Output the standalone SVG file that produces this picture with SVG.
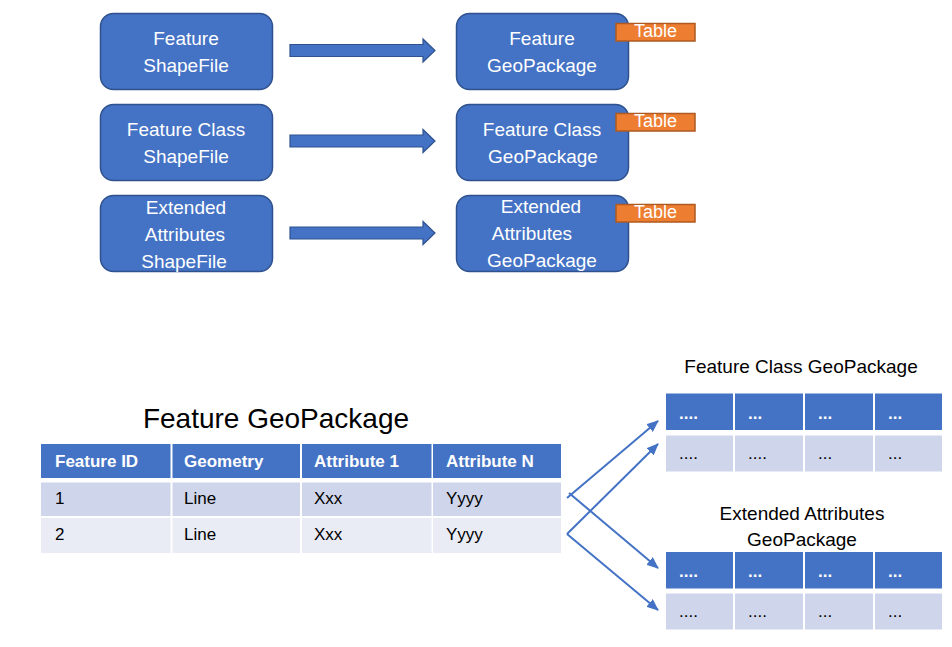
<svg xmlns="http://www.w3.org/2000/svg" width="952" height="647" viewBox="0 0 952 647">
<style>
text{font-family:"Liberation Sans",Arial,sans-serif}
.box{fill:#4472C4;stroke:#2F528F;stroke-width:1.5}
.bt{fill:#FFFFFF;font-size:19px;text-anchor:middle}
.tag{fill:#ED7D31;stroke:#AE5A21;stroke-width:1.5}
.tt{fill:#FFFFFF;font-size:18px;text-anchor:middle}
.barrow{fill:#4472C4;stroke:#2F528F;stroke-width:1.2}
.hd{fill:#4472C4}
.r1{fill:#CFD5EA}
.r2{fill:#E9EBF5}
.ht{fill:#FFFFFF;font-size:17px;font-weight:bold}
.ct{fill:#000000;font-size:17px}
.ttl{fill:#000000;text-anchor:middle}
.conn{stroke:#4472C4;stroke-width:2;fill:none;marker-end:url(#ah)}
</style>
<defs>
<marker id="ah" markerWidth="12" markerHeight="10" refX="11" refY="5" orient="auto" markerUnits="userSpaceOnUse">
<path d="M0,0 L12,5 L0,10 Z" fill="#4472C4"/>
</marker>
</defs>

<g id="shp-feature">
<rect class="box" x="100.5" y="13.5" width="172" height="76" rx="13"/>
<text class="bt" x="186" y="45">Feature</text>
<text class="bt" x="186" y="72">ShapeFile</text>
</g>
<g id="shp-featureclass">
<rect class="box" x="100.5" y="104.5" width="172" height="76" rx="13"/>
<text class="bt" x="186" y="136">Feature Class</text>
<text class="bt" x="186" y="163">ShapeFile</text>
</g>
<g id="shp-extended">
<rect class="box" x="100.5" y="195.5" width="172" height="76" rx="13"/>
<text class="bt" x="186" y="214">Extended</text>
<text class="bt" x="185" y="241">Attributes</text>
<text class="bt" x="184" y="268">ShapeFile</text>
</g>

<g id="gpkg-feature">
<rect class="box" x="456.5" y="13.5" width="172" height="76" rx="13"/>
<text class="bt" x="542" y="45">Feature</text>
<text class="bt" x="542" y="72">GeoPackage</text>
<rect class="tag" x="616" y="23.5" width="79" height="17.5"/>
<text class="tt" x="655.5" y="37">Table</text>
</g>
<g id="gpkg-featureclass">
<rect class="box" x="456.5" y="104.5" width="172" height="76" rx="13"/>
<text class="bt" x="542" y="136">Feature Class</text>
<text class="bt" x="543" y="163">GeoPackage</text>
<rect class="tag" x="616" y="113.5" width="79" height="17.5"/>
<text class="tt" x="655.5" y="127">Table</text>
</g>
<g id="gpkg-extended">
<rect class="box" x="456.5" y="195.5" width="172" height="76" rx="13"/>
<text class="bt" x="541" y="213">Extended</text>
<text class="bt" x="532" y="240">Attributes</text>
<text class="bt" x="542" y="267">GeoPackage</text>
<rect class="tag" x="616" y="204.5" width="79" height="17.5"/>
<text class="tt" x="655.5" y="218">Table</text>
</g>

<g id="connectors">
<path class="barrow" d="M290,44.5 H423 V39 L435,50.5 L423,62 V56.5 H290 Z"/>
<path class="barrow" d="M290,135 H423 V129.5 L435,141 L423,152.5 V147 H290 Z"/>
<path class="barrow" d="M290,227 H423 V221.5 L435,233 L423,244.5 V239 H290 Z"/>
<line class="conn" x1="567" y1="498" x2="658" y2="421"/>
<polyline class="conn" points="567,534 567,534 658,444"/>
<line class="conn" x1="569" y1="493" x2="658" y2="568"/>
<polyline class="conn" points="567,534 567,534 658,610"/>
</g>

<g id="feature-gpkg-table">
<text class="ttl" x="276" y="428" font-size="28">Feature GeoPackage</text>
<rect class="hd" x="41" y="444" width="129.5" height="34"/>
<rect class="hd" x="172.5" y="444" width="127.5" height="34"/>
<rect class="hd" x="302" y="444" width="129.5" height="34"/>
<rect class="hd" x="433" y="444" width="128" height="34"/>
<rect class="r1" x="41" y="482.5" width="129.5" height="33.5"/>
<rect class="r1" x="172.5" y="482.5" width="127.5" height="33.5"/>
<rect class="r1" x="302" y="482.5" width="129.5" height="33.5"/>
<rect class="r1" x="433" y="482.5" width="128" height="33.5"/>
<rect class="r2" x="41" y="518" width="129.5" height="35"/>
<rect class="r2" x="172.5" y="518" width="127.5" height="35"/>
<rect class="r2" x="302" y="518" width="129.5" height="35"/>
<rect class="r2" x="433" y="518" width="128" height="35"/>
<text class="ht" x="55" y="467">Feature ID</text>
<text class="ht" x="184" y="467">Geometry</text>
<text class="ht" x="314" y="467">Attribute 1</text>
<text class="ht" x="446" y="467">Attribute N</text>
<text class="ct" x="55" y="504">1</text>
<text class="ct" x="184" y="504">Line</text>
<text class="ct" x="314" y="504">Xxx</text>
<text class="ct" x="446" y="504">Yyyy</text>
<text class="ct" x="55" y="540">2</text>
<text class="ct" x="184" y="540">Line</text>
<text class="ct" x="314" y="540">Xxx</text>
<text class="ct" x="446" y="540">Yyyy</text>
</g>

<g id="featureclass-gpkg-table">
<text class="ttl" x="801" y="373" font-size="19">Feature Class GeoPackage</text>
<rect class="hd" x="666" y="393.5" width="67" height="36.5"/>
<rect class="hd" x="735" y="393.5" width="68" height="36.5"/>
<rect class="hd" x="805" y="393.5" width="68" height="36.5"/>
<rect class="hd" x="875" y="393.5" width="67" height="36.5"/>
<rect class="r1" x="666" y="435.5" width="67" height="36"/>
<rect class="r1" x="735" y="435.5" width="68" height="36"/>
<rect class="r1" x="805" y="435.5" width="68" height="36"/>
<rect class="r1" x="875" y="435.5" width="67" height="36"/>
<text class="ht" x="679" y="419">....</text>
<text class="ht" x="748" y="419">...</text>
<text class="ht" x="818" y="419">...</text>
<text class="ht" x="888" y="419">...</text>
<text class="ct" x="679" y="459">....</text>
<text class="ct" x="748" y="459">....</text>
<text class="ct" x="818" y="459">...</text>
<text class="ct" x="888" y="459">...</text>
</g>

<g id="extended-gpkg-table">
<text class="ttl" x="802" y="520" font-size="19">Extended Attributes</text>
<text class="ttl" x="802" y="546" font-size="19">GeoPackage</text>
<rect class="hd" x="666" y="552" width="67" height="36.5"/>
<rect class="hd" x="735" y="552" width="68" height="36.5"/>
<rect class="hd" x="805" y="552" width="68" height="36.5"/>
<rect class="hd" x="875" y="552" width="67" height="36.5"/>
<rect class="r1" x="666" y="593.5" width="67" height="36"/>
<rect class="r1" x="735" y="593.5" width="68" height="36"/>
<rect class="r1" x="805" y="593.5" width="68" height="36"/>
<rect class="r1" x="875" y="593.5" width="67" height="36"/>
<text class="ht" x="679" y="577">....</text>
<text class="ht" x="748" y="577">...</text>
<text class="ht" x="818" y="577">...</text>
<text class="ht" x="888" y="577">...</text>
<text class="ct" x="679" y="617">....</text>
<text class="ct" x="748" y="617">....</text>
<text class="ct" x="818" y="617">...</text>
<text class="ct" x="888" y="617">...</text>
</g>
</svg>
